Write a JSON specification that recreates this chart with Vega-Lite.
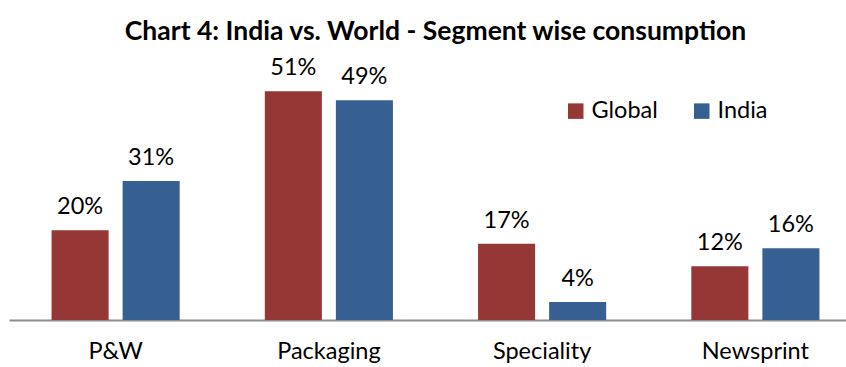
{
  "$schema": "https://vega.github.io/schema/vega-lite/v6.json",
  "autosize": "none",
  "padding": {"left": 9, "top": 51, "right": 0, "bottom": 47},
  "width": 853,
  "height": 269,
  "background": "white",
  "config": {"view": {"stroke": null}, "font": "Lato"},
  "title": {"text": "Chart 4: India vs. World - Segment wise consumption", "fontSize": 26.5, "fontWeight": "bold", "font": "Lato", "color": "#000000", "anchor": "middle", "offset": 6},
  "data": {"values": [
    {"segment": "P&W", "series": "Global", "value": 0.20},
    {"segment": "P&W", "series": "India", "value": 0.31},
    {"segment": "Packaging", "series": "Global", "value": 0.51},
    {"segment": "Packaging", "series": "India", "value": 0.49},
    {"segment": "Speciality", "series": "Global", "value": 0.17},
    {"segment": "Speciality", "series": "India", "value": 0.04},
    {"segment": "Newsprint", "series": "Global", "value": 0.12},
    {"segment": "Newsprint", "series": "India", "value": 0.16}
  ]},
  "encoding": {
    "x": {"field": "segment", "type": "nominal", "sort": ["P&W", "Packaging", "Speciality", "Newsprint"], "scale": {"paddingInner": 0, "paddingOuter": 0},
      "axis": {"title": null, "labelAngle": 0, "labelFontSize": 23.5, "labelColor": "#000000", "labelPadding": 19, "ticks": false, "domainColor": "#8c8c8c", "domainWidth": 2}},
    "xOffset": {"field": "series", "type": "nominal", "sort": ["Global", "India"], "scale": {"paddingInner": 0.197, "paddingOuter": 0.599}},
    "y": {"field": "value", "type": "quantitative", "scale": {"domain": [0, 0.6]}, "axis": null}
  },
  "layer": [
    {"mark": {"type": "bar"},
     "encoding": {"color": {"field": "series", "type": "nominal", "sort": ["Global", "India"],
       "scale": {"domain": ["Global", "India"], "range": ["#953735", "#376092"]},
       "legend": {"title": null, "orient": "none", "legendX": 555, "legendY": 48, "direction": "horizontal", "symbolType": "square", "symbolSize": 240, "symbolStrokeWidth": 0, "labelFontSize": 23.5, "labelColor": "#000000", "columnPadding": 32, "labelOffset": 4}}}},
    {"mark": {"type": "text", "baseline": "alphabetic", "dy": -16, "fontSize": 23.5, "color": "#000000"},
     "encoding": {"text": {"field": "value", "type": "quantitative", "format": ".0%"}}}
  ]
}
